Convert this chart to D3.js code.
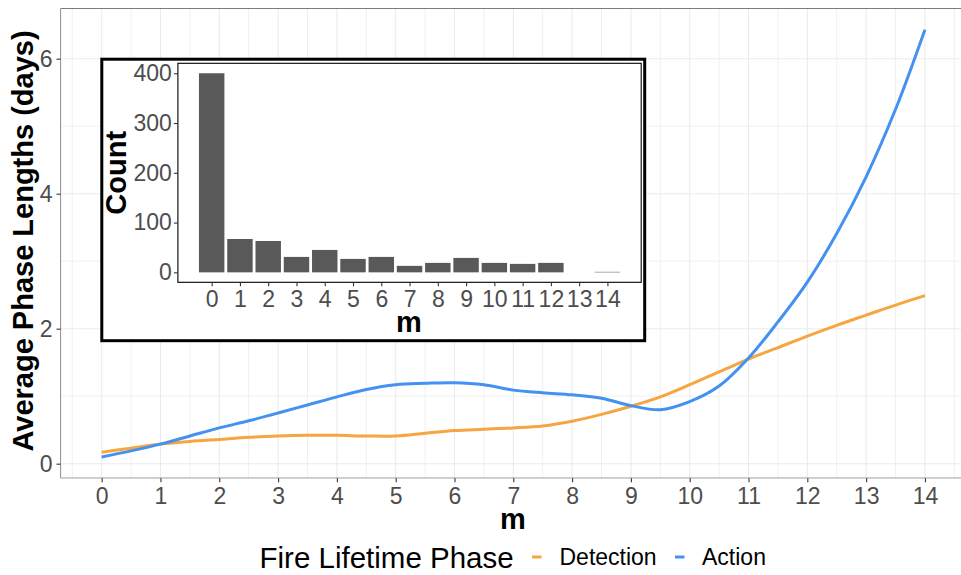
<!DOCTYPE html>
<html>
<head>
<meta charset="utf-8">
<script src="https://cdn.jsdelivr.net/npm/d3@7"></script>
<style>
  body { margin: 0; background: #ffffff; }
  text { font-family: "Liberation Sans", Arial, Helvetica, sans-serif; }
</style>
</head>
<body>
<svg id="chart" width="961" height="575"></svg>
<script>
// ---- data -------------------------------------------------------------
// smoothed phase lengths (days) sampled along m
const mPoints = [0, 0.5, 1, 1.5, 2, 2.5, 3, 3.5, 4, 4.5, 5, 5.5, 6, 6.5, 7,
                 7.5, 8, 8.5, 9, 9.5, 10, 10.5, 11, 11.5, 12, 12.5, 13, 13.5, 14];
const detection = [0.17, 0.23, 0.29, 0.33, 0.36, 0.39, 0.41, 0.42, 0.42, 0.41, 0.41, 0.45, 0.49, 0.51, 0.53,
                   0.56, 0.63, 0.73, 0.85, 0.99, 1.17, 1.36, 1.55, 1.72, 1.89, 2.05, 2.20, 2.35, 2.49];
const action    = [0.10, 0.19, 0.29, 0.41, 0.53, 0.635, 0.75, 0.87, 0.99, 1.10, 1.17, 1.19, 1.20, 1.17, 1.09,
                   1.05, 1.02, 0.97, 0.86, 0.80, 0.92, 1.15, 1.565, 2.10, 2.69, 3.41, 4.25, 5.25, 6.43];
const seriesNames = ["Detection", "Action"];
const seriesColors = ["#F7A540", "#4391F0"];

// histogram of fires per m
const mCategories = [0, 1, 2, 3, 4, 5, 6, 7, 8, 9, 10, 11, 12, 13, 14];
const mCounts = [400, 67, 63, 31, 45, 27, 31, 13, 19, 29, 19, 17, 19, 0, 1];

// tick values
const xTicks = [0, 1, 2, 3, 4, 5, 6, 7, 8, 9, 10, 11, 12, 13, 14];
const yTicks = [0, 2, 4, 6];
const insetYTicks = [0, 100, 200, 300, 400];

// ---- helpers ----------------------------------------------------------
const svg = d3.select("#chart");
const tickGrey = "#4D4D4D";
const axisGrey = "#333333";
const expand = (lo, hi, f) => { const d = (hi - lo) * f; return [lo - d, hi + d]; };

// ---- main panel -------------------------------------------------------
const P = { left: 60.5, right: 966.1, top: 8.3, bottom: 478.3 };

const x = d3.scaleLinear()
  .domain(expand(d3.min(mPoints), d3.max(mPoints), 0.05))
  .range([P.left, P.right]);
const allY = detection.concat(action);
const y = d3.scaleLinear()
  .domain(expand(d3.min(allY), d3.max(allY), 0.05))
  .range([P.bottom, P.top]);

svg.append("defs").append("clipPath").attr("id", "panel-clip")
  .append("rect").attr("x", P.left).attr("y", P.top)
  .attr("width", P.right - P.left).attr("height", P.bottom - P.top);

const panel = svg.append("g").attr("clip-path", "url(#panel-clip)");
panel.append("rect").attr("x", P.left).attr("y", P.top)
  .attr("width", P.right - P.left).attr("height", P.bottom - P.top)
  .attr("fill", "#ffffff");

// minor grid
const xMinor = xTicks.map(t => t - 0.5).concat([14.5]);
const yMinor = [1, 3, 5];
panel.selectAll(".xminor").data(xMinor).join("line")
  .attr("x1", d => x(d)).attr("x2", d => x(d))
  .attr("y1", P.top).attr("y2", P.bottom)
  .attr("stroke", "#F0F0F0").attr("stroke-width", 1);
panel.selectAll(".yminor").data(yMinor).join("line")
  .attr("x1", P.left).attr("x2", P.right)
  .attr("y1", d => y(d)).attr("y2", d => y(d))
  .attr("stroke", "#F0F0F0").attr("stroke-width", 1);
// major grid
panel.selectAll(".xmajor").data(xTicks).join("line")
  .attr("x1", d => x(d)).attr("x2", d => x(d))
  .attr("y1", P.top).attr("y2", P.bottom)
  .attr("stroke", "#EBEBEB").attr("stroke-width", 1.1);
panel.selectAll(".ymajor").data(yTicks).join("line")
  .attr("x1", P.left).attr("x2", P.right)
  .attr("y1", d => y(d)).attr("y2", d => y(d))
  .attr("stroke", "#EBEBEB").attr("stroke-width", 1.1);

// smoothed curves
const line = d3.line()
  .x(d => x(d[0])).y(d => y(d[1]))
  .curve(d3.curveCatmullRom.alpha(0.5));
[detection, action].forEach((vals, i) => {
  panel.append("path")
    .datum(mPoints.map((m, j) => [m, vals[j]]))
    .attr("fill", "none")
    .attr("stroke", seriesColors[i])
    .attr("stroke-width", 3)
    .attr("stroke-linecap", "butt")
    .attr("d", line);
});

// panel border
panel.append("rect").attr("x", P.left).attr("y", P.top)
  .attr("width", P.right - P.left).attr("height", P.bottom - P.top)
  .attr("fill", "none").attr("stroke", axisGrey).attr("stroke-width", 1.1);

// x axis
const xAxis = d3.axisBottom(x).tickValues(xTicks).tickSize(4).tickPadding(5).tickFormat(d3.format("d"));
const gx = svg.append("g").attr("transform", `translate(0,${P.bottom})`).call(xAxis);
gx.select(".domain").remove();
gx.selectAll(".tick line").attr("stroke", axisGrey).attr("stroke-width", 1.1);
gx.selectAll(".tick text").attr("fill", tickGrey).attr("font-size", 23)
  .attr("font-family", "Liberation Sans, Arial, sans-serif");

// y axis
const yAxis = d3.axisLeft(y).tickValues(yTicks).tickSize(4).tickPadding(4).tickFormat(d3.format("d"));
const gy = svg.append("g").attr("transform", `translate(${P.left},0)`).call(yAxis);
gy.select(".domain").remove();
gy.selectAll(".tick line").attr("stroke", axisGrey).attr("stroke-width", 1.1);
gy.selectAll(".tick text").attr("fill", tickGrey).attr("font-size", 23)
  .attr("font-family", "Liberation Sans, Arial, sans-serif");

// axis titles
svg.append("text").attr("x", 513).attr("y", 528.5)
  .attr("text-anchor", "middle").attr("font-size", 29).attr("font-weight", "bold")
  .attr("fill", "#000").text("m");
svg.append("text")
  .attr("transform", "translate(33,241) rotate(-90)")
  .attr("text-anchor", "middle").attr("font-size", 29).attr("font-weight", "bold")
  .attr("fill", "#000").text("Average Phase Lengths (days)");

// legend
const legend = svg.append("g").attr("transform", "translate(0,557)");
legend.append("text").attr("x", 259.5).attr("y", 10.5)
  .attr("font-size", 29.5).attr("fill", "#000").text("Fire Lifetime Phase");
const legendItems = [
  { key: 532, label: 559.5 },
  { key: 675, label: 702 }
];
legendItems.forEach((it, i) => {
  legend.append("line").attr("x1", it.key).attr("x2", it.key + 9.5)
    .attr("y1", 0).attr("y2", 0)
    .attr("stroke", seriesColors[i]).attr("stroke-width", 3);
  legend.append("text").attr("x", it.label).attr("y", 8.3)
    .attr("font-size", 23).attr("fill", "#000").text(seriesNames[i]);
});

// ---- inset histogram -------------------------------------------------
const O = { left: 101.8, top: 59.2, right: 644.7, bottom: 340.7 };
const I = { left: 177.9, top: 63.3, right: 641.2, bottom: 282.3 };
const barWidth = 0.9;

svg.append("rect").attr("x", O.left).attr("y", O.top)
  .attr("width", O.right - O.left).attr("height", O.bottom - O.top)
  .attr("fill", "#ffffff").attr("stroke", "#000").attr("stroke-width", 3);

const ix = d3.scaleLinear()
  .domain(expand(d3.min(mCategories) - barWidth / 2, d3.max(mCategories) + barWidth / 2, 0.05))
  .range([I.left, I.right]);
const iy = d3.scaleLinear()
  .domain(expand(0, d3.max(mCounts), 0.05))
  .range([I.bottom, I.top]);

svg.selectAll(".bar").data(mCategories).join("rect")
  .attr("class", "bar")
  .attr("x", d => ix(d - barWidth / 2))
  .attr("width", d => ix(d + barWidth / 2) - ix(d - barWidth / 2))
  .attr("y", (d, i) => iy(mCounts[i]))
  .attr("height", (d, i) => iy(0) - iy(mCounts[i]))
  .attr("fill", "#595959");

svg.append("rect").attr("x", I.left).attr("y", I.top)
  .attr("width", I.right - I.left).attr("height", I.bottom - I.top)
  .attr("fill", "none").attr("stroke", "#000").attr("stroke-width", 1.1);

const ixAxis = d3.axisBottom(ix).tickValues(mCategories).tickSize(4).tickPadding(4).tickFormat(d3.format("d"));
const gix = svg.append("g").attr("transform", `translate(0,${I.bottom})`).call(ixAxis);
gix.select(".domain").remove();
gix.selectAll(".tick line").attr("stroke", axisGrey).attr("stroke-width", 1.1);
gix.selectAll(".tick text").attr("fill", tickGrey).attr("font-size", 23)
  .attr("font-family", "Liberation Sans, Arial, sans-serif");

const iyAxis = d3.axisLeft(iy).tickValues(insetYTicks).tickSize(4).tickPadding(2).tickFormat(d3.format("d"));
const giy = svg.append("g").attr("transform", `translate(${I.left},0)`).call(iyAxis);
giy.select(".domain").remove();
giy.selectAll(".tick line").attr("stroke", axisGrey).attr("stroke-width", 1.1);
giy.selectAll(".tick text").attr("fill", tickGrey).attr("font-size", 23)
  .attr("font-family", "Liberation Sans, Arial, sans-serif");

svg.append("text").attr("x", 409).attr("y", 332)
  .attr("text-anchor", "middle").attr("font-size", 29).attr("font-weight", "bold")
  .attr("fill", "#000").text("m");
svg.append("text")
  .attr("transform", `translate(126,${(I.top + I.bottom) / 2}) rotate(-90)`)
  .attr("text-anchor", "middle").attr("font-size", 29).attr("font-weight", "bold")
  .attr("fill", "#000").text("Count");
</script>
</body>
</html>
